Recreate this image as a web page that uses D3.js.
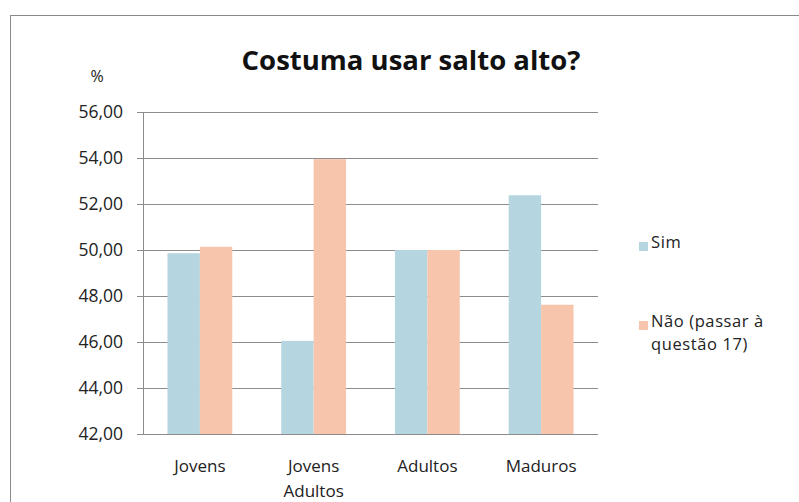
<!DOCTYPE html>
<html><head><meta charset="utf-8">
<script src="https://cdn.jsdelivr.net/npm/d3@7"></script>
<style>body{margin:0;background:#fff}svg{display:block}</style>
</head><body>
<script>
const categories = [["Jovens"], ["Jovens", "Adultos"], ["Adultos"], ["Maduros"]];
const seriesNames = ["Sim", "Não (passar à questão 17)"];
const sim = [49.86, 46.05, 50.0, 52.38];
const nao = [50.14, 53.95, 50.0, 47.62];
const yTicks = [42, 44, 46, 48, 50, 52, 54, 56];
const colors = ["#b5d5e0", "#f7c4ac"];

(function () {
const W = 799, H = 502;
const svg = d3.select("body").append("svg").attr("width", W).attr("height", H);
const font = "'Open Sans', 'DejaVu Sans', sans-serif";

// chart border
svg.append("rect").attr("x", 10.5).attr("y", 15.5).attr("width", 820).attr("height", 520)
  .attr("fill", "none").attr("stroke", "#8a8a8a").attr("stroke-width", 1);

const pL = 143, pR = 598, pT = 112, pB = 434;
const x = d3.scaleBand().domain(d3.range(categories.length)).range([pL, pR]).paddingInner(0.43).paddingOuter(0.215);
const y = d3.scaleLinear().domain([42, 56]).range([pB, pT]);
const x1 = d3.scaleBand().domain([0, 1]).range([0, x.bandwidth()]);

// gridlines
svg.append("g").selectAll("line").data(yTicks).join("line")
  .attr("x1", pL - 6).attr("x2", pR)
  .attr("y1", d => Math.round(y(d)) + 0.5).attr("y2", d => Math.round(y(d)) + 0.5)
  .attr("stroke", "#8c8c8c").attr("stroke-width", 1);

// bars
const data = categories.map((c, i) => [sim[i], nao[i]]);
const g = svg.append("g");
data.forEach((vals, i) => {
  g.selectAll(null).data(vals).join("rect")
    .attr("x", (d, j) => x(i) + x1(j))
    .attr("width", x1.bandwidth())
    .attr("y", d => y(d))
    .attr("height", d => y(42) - y(d))
    .attr("fill", (d, j) => colors[j]);
});

// axis lines
svg.append("line").attr("x1", pL + 0.5).attr("x2", pL + 0.5).attr("y1", pT).attr("y2", pB)
  .attr("stroke", "#8c8c8c");
svg.append("line").attr("x1", pL - 6).attr("x2", pR).attr("y1", Math.round(y(42)) + 0.5).attr("y2", Math.round(y(42)) + 0.5)
  .attr("stroke", "#8c8c8c");

// y tick labels
const fmt = d => d3.format(".2f")(d).replace(".", ",");
svg.append("g").selectAll("text").data(yTicks).join("text")
  .attr("x", 123).attr("y", d => y(d)).attr("dy", "0.36em")
  .attr("text-anchor", "end").attr("font-family", font).attr("font-size", 17.5).attr("fill", "#222")
  .text(fmt);

svg.append("text").attr("x", 97).attr("y", 82).attr("text-anchor", "middle")
  .attr("font-family", font).attr("font-size", 16).attr("fill", "#222").text("%");

// x labels
categories.forEach((lines, i) => {
  const cx = x(i) + x.bandwidth() / 2;
  const t = svg.append("text").attr("x", cx).attr("y", 472)
    .attr("text-anchor", "middle").attr("font-family", font).attr("font-size", 17).attr("fill", "#222");
  lines.forEach((l, k) => t.append("tspan").attr("x", cx).attr("dy", k ? 25 : 0).text(l));
});

// title
svg.append("text").attr("x", 411).attr("y", 70).attr("text-anchor", "middle")
  .attr("font-family", "'Open Sans', sans-serif").attr("font-weight", "bold").attr("font-size", 27.5).attr("fill", "#111")
  .text("Costuma usar salto alto?");

// legend
const legY = [248, 327];
const legLines = [["Sim"], ["Não (passar à", "questão 17)"]];
seriesNames.forEach((s, i) => {
  svg.append("rect").attr("x", 639).attr("y", legY[i] - 6).attr("width", 9).attr("height", 9).attr("fill", colors[i]);
  const t = svg.append("text").attr("x", 651).attr("y", legY[i]).attr("dy", "0.36em")
    .attr("font-family", font).attr("font-size", 16.5).attr("letter-spacing", 0.6).attr("fill", "#222");
  legLines[i].forEach((l, k) => t.append("tspan").attr("x", 651).attr("dy", k ? 23 : 0).text(l));
});
})();
</script>
</body></html>
